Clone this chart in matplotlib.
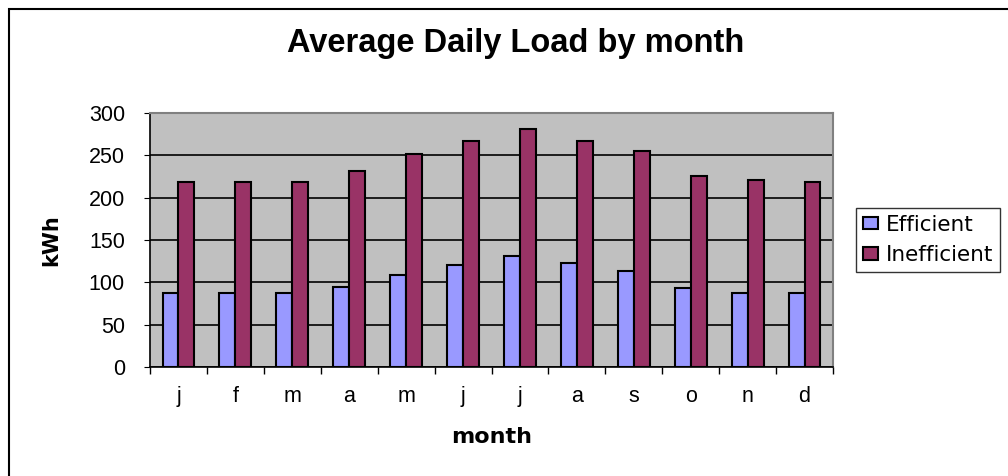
import numpy as np
import matplotlib.pyplot as plt
from matplotlib.patches import Rectangle

months = ["j", "f", "m", "a", "m", "j", "j", "a", "s", "o", "n", "d"]
efficient = [87, 87, 87, 95, 109, 121, 131, 123, 113, 93, 87, 87]
inefficient = [219, 219, 219, 231, 251, 267, 281, 267, 255, 226, 221, 219]

plt.rcParams['font.family'] = ['Liberation Sans', 'DejaVu Sans']

fig = plt.figure(figsize=(10.08, 4.76), dpi=100)
ax = fig.add_axes([150/1008, 1 - 367/476, 683/1008, 254/476])

x = np.arange(len(months))
w = 0.28
ax.bar(x - w/2, efficient, w, color="#9999FF", edgecolor="black", linewidth=1.5,
       label="Efficient", zorder=3)
ax.bar(x + w/2, inefficient, w, color="#993366", edgecolor="black", linewidth=1.5,
       label="Inefficient", zorder=3)

ax.set_facecolor("#C0C0C0")
ax.set_xlim(-0.5, len(months) - 0.5)
ax.set_ylim(0, 300)
ax.set_yticks(range(0, 301, 50))
ax.yaxis.grid(True, color="black", linewidth=1.2, zorder=1)
ax.set_axisbelow(True)

ax.set_xticks(x)
ax.set_xticklabels(months, fontsize=15.5)
ax.set_xticks(np.arange(-0.5, len(months)), minor=True)
ax.tick_params(axis="x", which="major", length=0, pad=14)
ax.tick_params(axis="x", which="minor", length=5, direction="out", width=1)
ax.tick_params(axis="y", labelsize=15.5, length=4, direction="out", pad=14)

for s in ["top", "right"]:
    ax.spines[s].set_color("#808080")
    ax.spines[s].set_linewidth(1.5)
for s in ["left", "bottom"]:
    ax.spines[s].set_color("black")
    ax.spines[s].set_linewidth(1.2)

ax.set_title("Average Daily Load by month", fontsize=23.5, fontweight="bold",
             pad=44, x=0.535)
ax.set_xlabel("month", fontsize=16, fontweight="bold", labelpad=14,
              family="DejaVu Sans")
ax.set_ylabel("kWh", fontsize=15, fontweight="bold", labelpad=20,
              family="DejaVu Sans")

leg = ax.legend(loc="center left", bbox_to_anchor=(1.034, 0.5),
                prop={"family": "DejaVu Sans", "size": 15.5},
                frameon=True, fancybox=False, edgecolor="black",
                handlelength=0.7, handleheight=0.55, handletextpad=0.4,
                borderaxespad=0, labelspacing=0.5, borderpad=0.3)
leg.get_frame().set_linewidth(1.0)

fig.patches.append(Rectangle((9/1008, -0.05), 1.1, 1 - 9/476 + 0.05,
                             transform=fig.transFigure, fill=False,
                             edgecolor="black", linewidth=1.5))

fig.savefig("out.png", dpi=100)
